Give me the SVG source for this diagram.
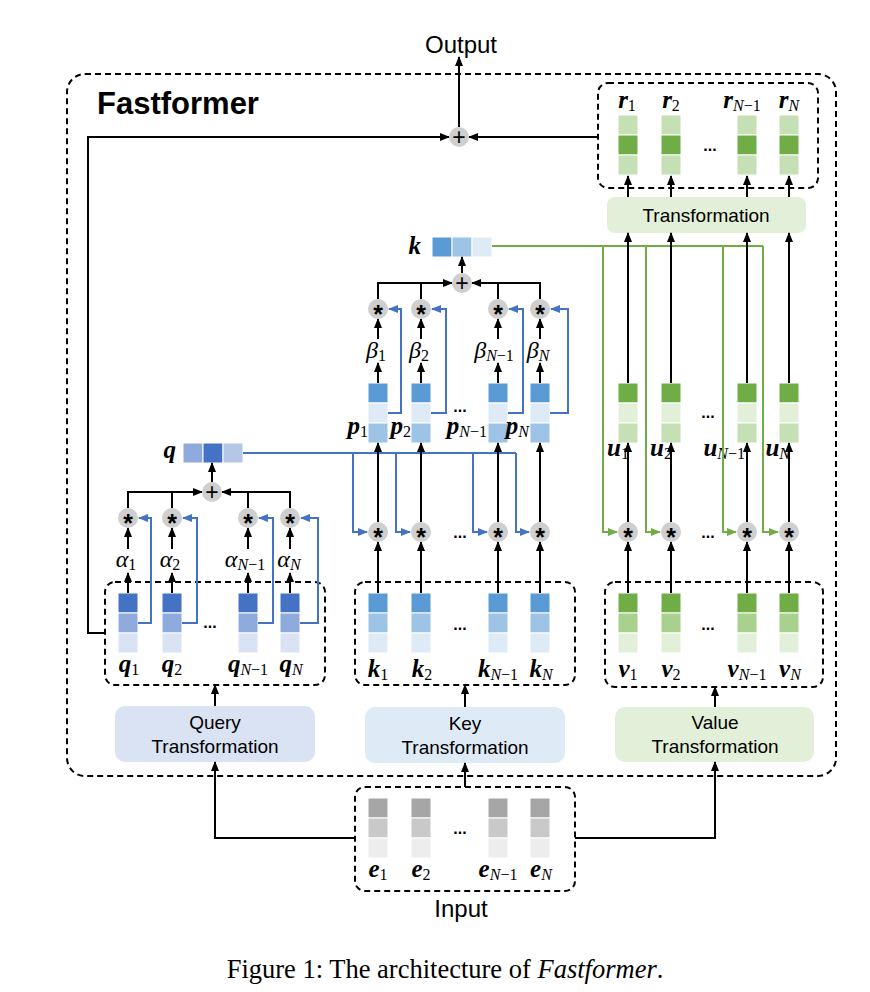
<svg xmlns="http://www.w3.org/2000/svg" width="870" height="992" viewBox="0 0 870 992">
<style>
.dash{fill:none;stroke:#000;stroke-width:2;stroke-dasharray:6 4}
.ln{fill:none;stroke:#000;stroke-width:2}
.bl{fill:none;stroke:#4472c4;stroke-width:2}
.gr{fill:none;stroke:#70ad47;stroke-width:2}
.c rect, rect.c{stroke:#fff;stroke-width:1}
.op{fill:#cfcfcf}
.opt{font-family:"Liberation Sans","DejaVu Sans",sans-serif;font-weight:bold;font-size:25px;text-anchor:middle;fill:#000}
.pl{font-family:"Liberation Sans","DejaVu Sans",sans-serif;font-size:23px;text-anchor:middle;fill:#000}
.lab{font-family:"Liberation Sans","DejaVu Sans",sans-serif;font-size:19px;text-anchor:middle;fill:#000}
.big{font-family:"Liberation Sans","DejaVu Sans",sans-serif;font-size:24px;text-anchor:middle;fill:#000}
.m{font-family:"Liberation Serif","DejaVu Serif",serif;font-weight:bold;font-style:italic;font-size:25px;fill:#000}
.g{font-family:"Liberation Serif","DejaVu Serif",serif;font-style:italic;font-size:24px;fill:#000}
.s{font-size:16px;font-weight:normal;font-style:normal}
.si{font-style:italic}
.dots{font-family:"Liberation Sans","DejaVu Sans",sans-serif;font-weight:bold;font-size:16px;text-anchor:middle;fill:#000}
.q1{fill:#4472c4}.q2{fill:#8faadc}.q3{fill:#dae3f3}.q4{fill:#b4c7e7}
.k1{fill:#5b9bd5}.k2{fill:#9dc3e6}.k3{fill:#deebf7}
.v1{fill:#70ad47}.v2{fill:#a9d18e}.v3{fill:#e2f0d9}.v4{fill:#c5e0b4}
.e1{fill:#a6a6a6}.e2{fill:#c9c9c9}.e3{fill:#ededed}
</style>
<defs>
<marker id="ah" viewBox="0 0 10 8" refX="9" refY="4" markerWidth="10" markerHeight="8" markerUnits="userSpaceOnUse" orient="auto"><path d="M0,0 L10,4 L0,8 z" fill="#000"/></marker>
<marker id="ahb" viewBox="0 0 10 8" refX="9" refY="4" markerWidth="10" markerHeight="8" markerUnits="userSpaceOnUse" orient="auto"><path d="M0,0 L10,4 L0,8 z" fill="#4472c4"/></marker>
<marker id="ahg" viewBox="0 0 10 8" refX="9" refY="4" markerWidth="10" markerHeight="8" markerUnits="userSpaceOnUse" orient="auto"><path d="M0,0 L10,4 L0,8 z" fill="#70ad47"/></marker>
</defs>
<rect width="870" height="992" fill="#fff"/>

<g id="fastformer-box">
<rect class="dash" x="67" y="74" width="769" height="702" rx="18"/>
<text x="97" y="114" font-family="Liberation Sans, DejaVu Sans, sans-serif" font-weight="bold" font-size="31">Fastformer</text>
</g>

<g id="output-label"><text class="big" x="461" y="53">Output</text></g>
<g id="input-label"><text class="big" x="461" y="917">Input</text></g>

<g id="query-transformation">
<rect x="115" y="706" width="200" height="56" rx="10" fill="#dae3f3"/>
<text class="lab" x="215" y="729">Query</text>
<text class="lab" x="215" y="753">Transformation</text>
</g>
<g id="key-transformation">
<rect x="365" y="707" width="200" height="56" rx="10" fill="#deebf7"/>
<text class="lab" x="465" y="730">Key</text>
<text class="lab" x="465" y="754">Transformation</text>
</g>
<g id="value-transformation">
<rect x="615" y="707" width="199" height="55" rx="10" fill="#e2f0d9"/>
<text class="lab" x="715" y="729">Value</text>
<text class="lab" x="715" y="753">Transformation</text>
</g>
<g id="transformation">
<rect x="607" y="197" width="199" height="36" rx="8" fill="#e2f0d9"/>
<text class="lab" x="706" y="222">Transformation</text>
</g>

<g id="input-e">
<rect class="dash" x="355" y="787" width="220" height="104" rx="10"/>
<g class="c">
<rect class="e1" x="368" y="798" width="20" height="20"/><rect class="e2" x="368" y="818" width="20" height="20"/><rect class="e3" x="368" y="838" width="20" height="20"/>
<rect class="e1" x="411" y="798" width="20" height="20"/><rect class="e2" x="411" y="818" width="20" height="20"/><rect class="e3" x="411" y="838" width="20" height="20"/>
<rect class="e1" x="488" y="798" width="20" height="20"/><rect class="e2" x="488" y="818" width="20" height="20"/><rect class="e3" x="488" y="838" width="20" height="20"/>
<rect class="e1" x="530" y="798" width="20" height="20"/><rect class="e2" x="530" y="818" width="20" height="20"/><rect class="e3" x="530" y="838" width="20" height="20"/>
</g>
<text class="dots" x="460" y="834">...</text>
<text class="m" x="378" y="877" text-anchor="middle">e<tspan class="s" dy="3">1</tspan></text>
<text class="m" x="421" y="877" text-anchor="middle">e<tspan class="s" dy="3">2</tspan></text>
<text class="m" x="498" y="877" text-anchor="middle">e<tspan class="s" dy="3"><tspan class="si">N</tspan>−1</tspan></text>
<text class="m" x="541" y="877" text-anchor="middle">e<tspan class="s si" dy="3">N</tspan></text>
</g>

<g id="query-vectors">
<rect class="dash" x="105" y="582" width="220" height="103" rx="10"/>
<g class="c">
<rect class="q1" x="118" y="593" width="20" height="20"/><rect class="q2" x="118" y="613" width="20" height="20"/><rect class="q3" x="118" y="633" width="20" height="20"/>
<rect class="q1" x="162" y="593" width="20" height="20"/><rect class="q2" x="162" y="613" width="20" height="20"/><rect class="q3" x="162" y="633" width="20" height="20"/>
<rect class="q1" x="238" y="593" width="20" height="20"/><rect class="q2" x="238" y="613" width="20" height="20"/><rect class="q3" x="238" y="633" width="20" height="20"/>
<rect class="q1" x="280" y="593" width="20" height="20"/><rect class="q2" x="280" y="613" width="20" height="20"/><rect class="q3" x="280" y="633" width="20" height="20"/>
</g>
<text class="dots" x="210" y="628">...</text>
<text class="m" x="129" y="672" text-anchor="middle">q<tspan class="s" dy="3">1</tspan></text>
<text class="m" x="172" y="672" text-anchor="middle">q<tspan class="s" dy="3">2</tspan></text>
<text class="m" x="248" y="672" text-anchor="middle">q<tspan class="s" dy="3"><tspan class="si">N</tspan>−1</tspan></text>
<text class="m" x="291" y="672" text-anchor="middle">q<tspan class="s si" dy="3">N</tspan></text>
</g>

<g id="key-vectors">
<rect class="dash" x="355" y="582" width="220" height="103" rx="10"/>
<g class="c">
<rect class="k1" x="368" y="593" width="20" height="20"/><rect class="k2" x="368" y="613" width="20" height="20"/><rect class="k3" x="368" y="633" width="20" height="20"/>
<rect class="k1" x="411" y="593" width="20" height="20"/><rect class="k2" x="411" y="613" width="20" height="20"/><rect class="k3" x="411" y="633" width="20" height="20"/>
<rect class="k1" x="488" y="593" width="20" height="20"/><rect class="k2" x="488" y="613" width="20" height="20"/><rect class="k3" x="488" y="633" width="20" height="20"/>
<rect class="k1" x="530" y="593" width="20" height="20"/><rect class="k2" x="530" y="613" width="20" height="20"/><rect class="k3" x="530" y="633" width="20" height="20"/>
</g>
<text class="dots" x="460" y="630">...</text>
<text class="m" x="378" y="677" text-anchor="middle">k<tspan class="s" dy="3">1</tspan></text>
<text class="m" x="422" y="677" text-anchor="middle">k<tspan class="s" dy="3">2</tspan></text>
<text class="m" x="498" y="677" text-anchor="middle">k<tspan class="s" dy="3"><tspan class="si">N</tspan>−1</tspan></text>
<text class="m" x="541" y="677" text-anchor="middle">k<tspan class="s si" dy="3">N</tspan></text>
</g>

<g id="value-vectors">
<rect class="dash" x="605" y="582" width="218" height="105" rx="10"/>
<g class="c">
<rect class="v1" x="618" y="593" width="20" height="20"/><rect class="v2" x="618" y="613" width="20" height="20"/><rect class="v3" x="618" y="633" width="20" height="20"/>
<rect class="v1" x="661" y="593" width="20" height="20"/><rect class="v2" x="661" y="613" width="20" height="20"/><rect class="v3" x="661" y="633" width="20" height="20"/>
<rect class="v1" x="737" y="593" width="20" height="20"/><rect class="v2" x="737" y="613" width="20" height="20"/><rect class="v3" x="737" y="633" width="20" height="20"/>
<rect class="v1" x="779" y="593" width="20" height="20"/><rect class="v2" x="779" y="613" width="20" height="20"/><rect class="v3" x="779" y="633" width="20" height="20"/>
</g>
<text class="dots" x="708" y="630">...</text>
<text class="m" x="628" y="677" text-anchor="middle">v<tspan class="s" dy="3">1</tspan></text>
<text class="m" x="671" y="677" text-anchor="middle">v<tspan class="s" dy="3">2</tspan></text>
<text class="m" x="747" y="677" text-anchor="middle">v<tspan class="s" dy="3"><tspan class="si">N</tspan>−1</tspan></text>
<text class="m" x="790" y="677" text-anchor="middle">v<tspan class="s si" dy="3">N</tspan></text>
</g>

<g id="p-vectors">
<g class="c">
<rect class="k1" x="368" y="383" width="20" height="20"/><rect class="k3" x="368" y="403" width="20" height="20"/><rect class="k2" x="368" y="423" width="20" height="20"/>
<rect class="k1" x="411" y="383" width="20" height="20"/><rect class="k3" x="411" y="403" width="20" height="20"/><rect class="k2" x="411" y="423" width="20" height="20"/>
<rect class="k1" x="488" y="383" width="20" height="20"/><rect class="k3" x="488" y="403" width="20" height="20"/><rect class="k2" x="488" y="423" width="20" height="20"/>
<rect class="k1" x="530" y="383" width="20" height="20"/><rect class="k3" x="530" y="403" width="20" height="20"/><rect class="k2" x="530" y="423" width="20" height="20"/>
</g>
<text class="dots" x="460" y="412">...</text>
<text class="m" x="368" y="434" text-anchor="end">p<tspan class="s" dy="3">1</tspan></text>
<text class="m" x="411" y="434" text-anchor="end">p<tspan class="s" dy="3">2</tspan></text>
<text class="m" x="487" y="434" text-anchor="end">p<tspan class="s" dy="3"><tspan class="si">N</tspan>−1</tspan></text>
<text class="m" x="529" y="434" text-anchor="end">p<tspan class="s si" dy="3">N</tspan></text>
</g>

<g id="u-vectors">
<g class="c">
<rect class="v1" x="618" y="383" width="20" height="20"/><rect class="v3" x="618" y="403" width="20" height="20"/><rect class="v4" x="618" y="423" width="20" height="20"/>
<rect class="v1" x="661" y="383" width="20" height="20"/><rect class="v3" x="661" y="403" width="20" height="20"/><rect class="v4" x="661" y="423" width="20" height="20"/>
<rect class="v1" x="737" y="383" width="20" height="20"/><rect class="v3" x="737" y="403" width="20" height="20"/><rect class="v4" x="737" y="423" width="20" height="20"/>
<rect class="v1" x="779" y="383" width="20" height="20"/><rect class="v3" x="779" y="403" width="20" height="20"/><rect class="v4" x="779" y="423" width="20" height="20"/>
</g>
<text class="dots" x="708" y="418">...</text>
<text class="m" x="629" y="456" text-anchor="end">u<tspan class="s" dy="3">1</tspan></text>
<text class="m" x="672" y="456" text-anchor="end">u<tspan class="s" dy="3">2</tspan></text>
<text class="m" x="745" y="456" text-anchor="end">u<tspan class="s" dy="3"><tspan class="si">N</tspan>−1</tspan></text>
<text class="m" x="790" y="456" text-anchor="end">u<tspan class="s si" dy="3">N</tspan></text>
</g>

<g id="r-vectors">
<rect class="dash" x="598" y="83" width="220" height="105" rx="10"/>
<g class="c">
<rect class="v4" x="618" y="115" width="20" height="20"/><rect class="v1" x="618" y="135" width="20" height="20"/><rect class="v4" x="618" y="155" width="20" height="20"/>
<rect class="v4" x="661" y="115" width="20" height="20"/><rect class="v1" x="661" y="135" width="20" height="20"/><rect class="v4" x="661" y="155" width="20" height="20"/>
<rect class="v4" x="737" y="115" width="20" height="20"/><rect class="v1" x="737" y="135" width="20" height="20"/><rect class="v4" x="737" y="155" width="20" height="20"/>
<rect class="v4" x="779" y="115" width="20" height="20"/><rect class="v1" x="779" y="135" width="20" height="20"/><rect class="v4" x="779" y="155" width="20" height="20"/>
</g>
<text class="dots" x="710" y="151">...</text>
<text class="m" x="627" y="108" text-anchor="middle">r<tspan class="s" dy="3">1</tspan></text>
<text class="m" x="671" y="108" text-anchor="middle">r<tspan class="s" dy="3">2</tspan></text>
<text class="m" x="742" y="108" text-anchor="middle">r<tspan class="s" dy="3"><tspan class="si">N</tspan>−1</tspan></text>
<text class="m" x="789" y="108" text-anchor="middle">r<tspan class="s si" dy="3">N</tspan></text>
</g>

<g id="q-global">
<g class="c"><rect class="q2" x="183" y="443" width="20" height="20"/><rect class="q1" x="203" y="443" width="20" height="20"/><rect class="q4" x="223" y="443" width="20" height="20"/></g>
<text class="m" x="176" y="458" text-anchor="end">q</text>
</g>
<g id="k-global">
<g class="c"><rect class="k1" x="432" y="237" width="20" height="20"/><rect class="k2" x="452" y="237" width="20" height="20"/><rect class="k3" x="472" y="237" width="20" height="20"/></g>
<text class="m" x="421" y="254" text-anchor="end">k</text>
</g>

<g id="alpha-labels">
<text class="g" x="126" y="567" text-anchor="middle">α<tspan class="s" dy="3">1</tspan></text>
<text class="g" x="170" y="567" text-anchor="middle">α<tspan class="s" dy="3">2</tspan></text>
<text class="g" x="245" y="567" text-anchor="middle">α<tspan class="s" dy="3"><tspan class="si">N</tspan>−1</tspan></text>
<text class="g" x="289" y="567" text-anchor="middle">α<tspan class="s si" dy="3">N</tspan></text>
</g>
<g id="beta-labels">
<text class="g" x="376" y="358" text-anchor="middle">β<tspan class="s" dy="3">1</tspan></text>
<text class="g" x="419" y="358" text-anchor="middle">β<tspan class="s" dy="3">2</tspan></text>
<text class="g" x="494" y="358" text-anchor="middle">β<tspan class="s" dy="3"><tspan class="si">N</tspan>−1</tspan></text>
<text class="g" x="538" y="358" text-anchor="middle">β<tspan class="s si" dy="3">N</tspan></text>
</g>

<g id="connectors">
<path class="gr" d="M492 246 H763"/>
<path class="gr" d="M603 246 V532 H617" marker-end="url(#ahg)"/>
<path class="gr" d="M646 246 V532 H660" marker-end="url(#ahg)"/>
<path class="gr" d="M723 246 V532 H736" marker-end="url(#ahg)"/>
<path class="gr" d="M763 246 V532 H778" marker-end="url(#ahg)"/>
<path class="bl" d="M243 453 H516"/>
<path class="bl" d="M353 453 V532 H367" marker-end="url(#ahb)"/>
<path class="bl" d="M396 453 V532 H410" marker-end="url(#ahb)"/>
<path class="bl" d="M473 453 V532 H487" marker-end="url(#ahb)"/>
<path class="bl" d="M516 453 V532 H529" marker-end="url(#ahb)"/>
<path class="bl" d="M138 623 H151 V518 H139" marker-end="url(#ahb)"/>
<path class="bl" d="M182 623 H197 V518 H183" marker-end="url(#ahb)"/>
<path class="bl" d="M258 623 H273 V518 H259" marker-end="url(#ahb)"/>
<path class="bl" d="M300 623 H318 V518 H301" marker-end="url(#ahb)"/>
<path class="bl" d="M388 413 H401 V309 H389" marker-end="url(#ahb)"/>
<path class="bl" d="M431 413 H446 V309 H432" marker-end="url(#ahb)"/>
<path class="bl" d="M508 413 H523 V309 H509" marker-end="url(#ahb)"/>
<path class="bl" d="M550 413 H568 V309 H551" marker-end="url(#ahb)"/>
<path class="ln" d="M128 593 V573" marker-end="url(#ah)"/>
<path class="ln" d="M172 593 V573" marker-end="url(#ah)"/>
<path class="ln" d="M248 593 V573" marker-end="url(#ah)"/>
<path class="ln" d="M290 593 V573" marker-end="url(#ah)"/>
<path class="ln" d="M128 549 V528" marker-end="url(#ah)"/>
<path class="ln" d="M172 549 V528" marker-end="url(#ah)"/>
<path class="ln" d="M248 549 V528" marker-end="url(#ah)"/>
<path class="ln" d="M290 549 V528" marker-end="url(#ah)"/>
<path class="ln" d="M128 508 V492 H202" marker-end="url(#ah)"/>
<path class="ln" d="M172 508 V492"/>
<path class="ln" d="M290 508 V492 H222" marker-end="url(#ah)"/>
<path class="ln" d="M248 508 V492"/>
<path class="ln" d="M212 482 V463" marker-end="url(#ah)"/>
<path class="ln" d="M378 593 V542" marker-end="url(#ah)"/>
<path class="ln" d="M421 593 V542" marker-end="url(#ah)"/>
<path class="ln" d="M498 593 V542" marker-end="url(#ah)"/>
<path class="ln" d="M540 593 V542" marker-end="url(#ah)"/>
<path class="ln" d="M378 522 V443" marker-end="url(#ah)"/>
<path class="ln" d="M421 522 V443" marker-end="url(#ah)"/>
<path class="ln" d="M498 522 V443" marker-end="url(#ah)"/>
<path class="ln" d="M540 522 V443" marker-end="url(#ah)"/>
<path class="ln" d="M378 383 V363" marker-end="url(#ah)"/>
<path class="ln" d="M421 383 V363" marker-end="url(#ah)"/>
<path class="ln" d="M498 383 V363" marker-end="url(#ah)"/>
<path class="ln" d="M540 383 V363" marker-end="url(#ah)"/>
<path class="ln" d="M378 339 V319" marker-end="url(#ah)"/>
<path class="ln" d="M421 339 V319" marker-end="url(#ah)"/>
<path class="ln" d="M498 339 V319" marker-end="url(#ah)"/>
<path class="ln" d="M540 339 V319" marker-end="url(#ah)"/>
<path class="ln" d="M378 299 V283 H452" marker-end="url(#ah)"/>
<path class="ln" d="M421 299 V283"/>
<path class="ln" d="M540 299 V283 H472" marker-end="url(#ah)"/>
<path class="ln" d="M498 299 V283"/>
<path class="ln" d="M462 273 V257" marker-end="url(#ah)"/>
<path class="ln" d="M628 593 V542" marker-end="url(#ah)"/>
<path class="ln" d="M671 593 V542" marker-end="url(#ah)"/>
<path class="ln" d="M747 593 V542" marker-end="url(#ah)"/>
<path class="ln" d="M789 593 V542" marker-end="url(#ah)"/>
<path class="ln" d="M628 522 V443" marker-end="url(#ah)"/>
<path class="ln" d="M671 522 V443" marker-end="url(#ah)"/>
<path class="ln" d="M747 522 V443" marker-end="url(#ah)"/>
<path class="ln" d="M789 522 V443" marker-end="url(#ah)"/>
<path class="ln" d="M628 383 V233" marker-end="url(#ah)"/>
<path class="ln" d="M671 383 V233" marker-end="url(#ah)"/>
<path class="ln" d="M747 383 V233" marker-end="url(#ah)"/>
<path class="ln" d="M789 383 V233" marker-end="url(#ah)"/>
<path class="ln" d="M628 197 V176" marker-end="url(#ah)"/>
<path class="ln" d="M671 197 V176" marker-end="url(#ah)"/>
<path class="ln" d="M747 197 V176" marker-end="url(#ah)"/>
<path class="ln" d="M789 197 V176" marker-end="url(#ah)"/>
<path class="ln" d="M459 127 V57" marker-end="url(#ah)"/>
<path class="ln" d="M105 633 H88 V137 H449" marker-end="url(#ah)"/>
<path class="ln" d="M598 137 H469" marker-end="url(#ah)"/>
<path class="ln" d="M355 838 H215 V762" marker-end="url(#ah)"/>
<path class="ln" d="M575 838 H715 V762" marker-end="url(#ah)"/>
<path class="ln" d="M465 787 V763" marker-end="url(#ah)"/>
<path class="ln" d="M215 706 V685" marker-end="url(#ah)"/>
<path class="ln" d="M465 707 V685" marker-end="url(#ah)"/>
<path class="ln" d="M715 707 V687" marker-end="url(#ah)"/>
</g>

<g id="operators">
<g id="mul-q"><circle class="op" cx="128" cy="518" r="10"/><circle class="op" cx="172" cy="518" r="10"/><circle class="op" cx="248" cy="518" r="10"/><circle class="op" cx="290" cy="518" r="10"/>
<text class="opt" x="128" y="532">*</text><text class="opt" x="172" y="532">*</text><text class="opt" x="248" y="532">*</text><text class="opt" x="290" y="532">*</text></g>
<g id="mul-k"><circle class="op" cx="378" cy="532" r="10"/><circle class="op" cx="421" cy="532" r="10"/><circle class="op" cx="498" cy="532" r="10"/><circle class="op" cx="540" cy="532" r="10"/>
<text class="opt" x="378" y="546">*</text><text class="opt" x="421" y="546">*</text><text class="opt" x="498" y="546">*</text><text class="opt" x="540" y="546">*</text></g>
<text class="dots" x="460" y="538">...</text>
<g id="mul-v"><circle class="op" cx="628" cy="532" r="10"/><circle class="op" cx="671" cy="532" r="10"/><circle class="op" cx="747" cy="532" r="10"/><circle class="op" cx="789" cy="532" r="10"/>
<text class="opt" x="628" y="546">*</text><text class="opt" x="671" y="546">*</text><text class="opt" x="747" y="546">*</text><text class="opt" x="789" y="546">*</text></g>
<text class="dots" x="708" y="538">...</text>
<g id="mul-p"><circle class="op" cx="378" cy="309" r="10"/><circle class="op" cx="421" cy="309" r="10"/><circle class="op" cx="498" cy="309" r="10"/><circle class="op" cx="540" cy="309" r="10"/>
<text class="opt" x="378" y="323">*</text><text class="opt" x="421" y="323">*</text><text class="opt" x="498" y="323">*</text><text class="opt" x="540" y="323">*</text></g>
<g id="sum-q"><circle class="op" cx="212" cy="492" r="10"/><text class="pl" x="212" y="500">+</text></g>
<g id="sum-k"><circle class="op" cx="462" cy="283" r="10"/><text class="pl" x="462" y="291">+</text></g>
<g id="sum-out"><circle class="op" cx="459" cy="137" r="10"/><text class="pl" x="459" y="145">+</text></g>
</g>

<text x="445" y="978" text-anchor="middle" font-family="Liberation Serif, DejaVu Serif, serif" font-size="26.5">Figure 1: The architecture of <tspan font-style="italic">Fastformer</tspan>.</text>
</svg>
